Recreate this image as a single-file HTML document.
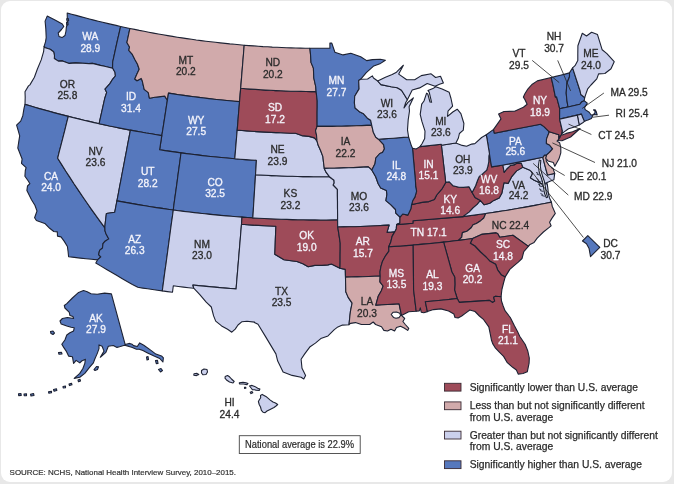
<!DOCTYPE html>
<html><head><meta charset="utf-8"><style>
html,body{margin:0;padding:0;background:#e8e8e8;}
#c{position:relative;width:674px;height:484px;background:#e8e8e8;overflow:hidden;}
#w{position:absolute;left:1px;top:1px;width:671px;height:481px;background:#fff;border-radius:9px;}
svg{position:absolute;left:0;top:0;will-change:transform;}
text{font-family:"Liberation Sans",Arial,sans-serif;}
</style></head><body><div id="c"><div id="w"></div>
<svg width="674" height="484" viewBox="0 0 674 484">
<g stroke="#1d2233" stroke-width="1.1" stroke-linejoin="round">
<path fill="#5678bd" d="M47.2,16.1 55.0,20.0 62.3,24.0 63.8,26.5 61.5,29.5 58.2,33.0 59.0,36.5 62.0,37.6 65.0,35.5 66.0,31.0 66.3,27.5 67.5,23.5 67.3,18.0 67.2,13.0 71.6,14.2 76.1,15.4 80.5,16.6 84.9,17.8 89.4,19.0 93.8,20.1 98.2,21.2 102.7,22.3 107.2,23.4 111.6,24.4 116.1,25.4 120.6,26.5 119.3,32.4 117.9,38.3 116.6,44.2 115.3,50.1 114.0,56.1 112.7,62.0 112.6,68.1 108.5,67.2 104.5,66.3 100.4,65.4 96.4,64.4 92.4,63.4 89.0,63.6 82.8,63.3 75.6,62.9 69.2,63.4 62.5,60.9 58.3,61.1 54.3,58.5 54.5,55.7 53.6,51.7 50.1,49.2 45.3,47.8 44.1,46.4 45.5,41.9 46.2,37.7 45.8,28.7 45.1,21.1 47.2,16.1Z"/>
<path fill="#cbd0ec" d="M44.1,46.4 45.3,47.8 50.1,49.2 53.6,51.7 54.5,55.7 54.3,58.5 58.3,61.1 62.5,60.9 69.2,63.4 75.6,62.9 82.8,63.3 89.0,63.6 92.4,63.4 96.4,64.4 100.4,65.4 104.5,66.3 108.5,67.2 112.6,68.1 115.0,72.3 115.4,76.0 112.3,79.7 109.9,83.6 105.0,89.1 106.7,92.4 104.7,98.5 103.3,104.8 101.9,111.1 100.5,117.4 99.1,123.7 94.2,122.6 89.2,121.4 84.2,120.3 79.2,119.1 74.3,117.9 69.3,116.6 64.4,115.4 59.4,114.1 54.5,112.8 49.6,111.4 44.6,110.1 39.7,108.7 34.8,107.3 29.9,105.8 25.0,104.4 25.2,96.9 25.0,91.8 28.5,85.9 29.9,84.9 34.4,77.2 37.3,69.2 41.2,59.9 43.6,51.7 44.1,46.4Z"/>
<path fill="#5678bd" d="M25.0,104.4 29.8,105.8 34.6,107.2 39.4,108.6 44.2,109.9 49.0,111.3 53.8,112.6 58.6,113.9 63.5,115.1 68.3,116.4 66.5,123.3 64.8,130.3 63.0,137.3 61.2,144.3 59.4,151.2 57.7,158.2 61.7,164.6 65.7,171.0 69.9,177.4 74.0,183.8 78.3,190.1 82.6,196.5 86.9,202.8 91.3,209.1 95.8,215.4 100.3,221.7 104.9,227.9 105.0,230.9 106.1,234.0 108.8,238.9 105.1,241.2 103.0,243.7 102.5,248.0 99.6,250.4 98.6,254.6 100.8,256.9 97.5,259.9 91.7,259.3 86.0,258.7 80.2,258.1 74.4,257.4 68.6,256.7 68.1,251.8 67.4,246.5 64.3,241.4 61.0,236.9 57.5,236.1 57.3,231.9 53.8,231.5 49.7,228.3 44.8,223.4 36.4,220.5 34.6,217.8 37.0,211.0 34.9,205.2 31.5,199.8 26.9,190.4 27.5,186.0 29.9,183.7 28.3,181.0 24.9,176.3 25.3,170.5 26.1,167.7 21.5,163.4 22.1,159.0 17.8,148.0 19.0,140.1 19.7,135.8 18.3,130.9 16.6,125.1 20.7,121.1 22.8,115.7 24.1,107.8 25.0,104.4Z"/>
<path fill="#cbd0ec" d="M68.3,116.4 73.4,117.7 78.6,118.9 83.7,120.2 88.9,121.4 94.1,122.6 99.2,123.7 104.4,124.9 109.6,126.0 114.8,127.0 120.0,128.1 125.2,129.1 130.4,130.1 129.1,136.9 127.8,143.8 126.5,150.6 125.2,157.5 123.9,164.3 122.6,171.2 121.3,178.0 120.0,184.9 118.7,191.8 117.4,198.6 116.1,205.5 114.7,212.3 106.4,213.5 105.5,220.7 104.9,226.4 104.9,227.9 100.3,221.7 95.8,215.4 91.3,209.1 86.9,202.8 82.6,196.5 78.3,190.1 74.0,183.8 69.9,177.4 65.7,171.0 61.7,164.6 57.7,158.2 59.4,151.2 61.2,144.3 63.0,137.3 64.8,130.3 66.5,123.3 68.3,116.4Z"/>
<path fill="#5678bd" d="M120.6,26.5 125.2,27.5 129.9,28.5 128.9,33.1 127.9,37.8 126.9,42.5 129.5,47.1 128.8,50.4 132.1,54.1 135.0,59.7 137.4,64.0 139.2,69.2 136.7,74.5 134.8,79.0 137.0,80.8 141.2,78.4 142.2,80.7 144.2,89.4 148.3,92.6 149.4,98.2 154.8,97.3 164.7,96.1 167.4,100.2 166.3,107.2 165.2,114.3 164.1,121.4 163.0,128.5 161.8,135.6 156.6,134.7 151.3,133.8 146.1,133.0 140.9,132.0 135.6,131.1 130.4,130.1 125.2,129.1 120.0,128.1 114.7,127.0 109.5,126.0 104.3,124.8 99.1,123.7 100.5,117.4 101.9,111.1 103.3,104.8 104.7,98.5 106.7,92.4 105.0,89.1 109.9,83.6 112.3,79.7 115.4,76.0 115.0,72.3 112.6,68.1 112.7,62.0 114.0,56.1 115.3,50.1 116.6,44.2 117.9,38.3 119.3,32.4 120.6,26.5Z"/>
<path fill="#d1aaab" d="M129.9,28.5 134.6,29.4 139.3,30.4 144.1,31.3 148.8,32.2 153.5,33.1 158.3,34.0 163.0,34.8 167.8,35.6 172.5,36.4 177.3,37.2 182.0,37.9 186.8,38.6 191.6,39.3 196.3,40.0 201.1,40.6 205.9,41.2 210.7,41.8 215.5,42.3 220.3,42.9 225.1,43.4 229.8,43.9 234.6,44.3 239.4,44.8 244.2,45.2 243.7,52.2 243.1,59.2 242.5,66.3 241.9,73.3 241.3,80.4 240.7,87.4 240.1,94.5 239.6,101.6 234.5,101.2 229.4,100.7 224.3,100.2 219.2,99.7 214.1,99.2 209.0,98.6 203.9,98.0 198.9,97.4 193.8,96.8 188.7,96.1 183.7,95.4 178.6,94.7 173.5,93.9 168.5,93.1 167.4,100.2 164.7,96.1 154.8,97.3 149.4,98.2 148.3,92.6 144.2,89.4 142.2,80.7 141.2,78.4 137.0,80.8 134.8,79.0 136.7,74.5 139.2,69.2 137.4,64.0 135.0,59.7 132.1,54.1 128.8,50.4 129.5,47.1 126.9,42.5 127.9,37.8 128.9,33.1 129.9,28.5Z"/>
<path fill="#5678bd" d="M168.5,93.1 173.5,93.9 178.6,94.7 183.7,95.4 188.7,96.1 193.8,96.8 198.9,97.4 203.9,98.0 209.0,98.6 214.1,99.2 219.2,99.7 224.3,100.2 229.4,100.7 234.5,101.2 239.6,101.6 239.0,108.7 238.4,115.9 237.8,123.0 237.2,130.1 236.6,137.3 236.0,144.4 235.4,151.6 234.8,158.8 229.4,158.3 224.0,157.8 218.6,157.3 213.3,156.7 207.9,156.2 202.5,155.6 197.1,154.9 191.8,154.3 186.4,153.6 181.0,152.9 175.7,152.1 170.3,151.4 165.0,150.6 159.6,149.8 160.7,142.6 161.8,135.6 163.0,128.5 164.1,121.4 165.2,114.3 166.3,107.2 167.4,100.2 168.5,93.1Z"/>
<path fill="#5678bd" d="M130.4,130.1 135.6,131.1 140.9,132.0 146.1,133.0 151.3,133.8 156.6,134.7 161.8,135.6 160.7,142.6 159.6,149.8 165.0,150.6 170.3,151.4 175.7,152.1 181.0,152.9 180.1,160.0 179.1,167.1 178.1,174.3 177.2,181.4 176.2,188.6 175.2,195.7 174.2,202.8 173.3,210.0 167.6,209.2 162.0,208.4 156.3,207.6 150.7,206.7 145.0,205.8 139.4,204.9 133.8,203.9 128.1,202.9 122.5,201.9 116.9,200.9 118.3,193.8 119.6,186.7 121.0,179.6 122.3,172.5 123.7,165.4 125.0,158.4 126.4,151.3 127.7,144.2 129.1,137.2 130.4,130.1Z"/>
<path fill="#5678bd" d="M181.0,152.9 186.4,153.6 191.8,154.3 197.1,154.9 202.5,155.6 207.9,156.2 213.3,156.7 218.6,157.3 224.0,157.8 229.4,158.3 234.8,158.8 240.2,159.2 245.6,159.6 251.0,160.0 256.4,160.3 256.0,167.5 255.5,174.7 255.1,181.9 254.6,189.1 254.2,196.3 253.7,203.5 253.3,210.7 252.8,217.9 247.1,217.5 241.4,217.1 235.7,216.7 230.0,216.2 224.4,215.7 218.7,215.2 213.0,214.6 207.3,214.1 201.6,213.5 195.9,212.8 190.3,212.2 184.6,211.5 178.9,210.7 173.3,210.0 174.2,202.8 175.2,195.7 176.2,188.6 177.2,181.4 178.1,174.3 179.1,167.1 180.1,160.0 181.0,152.9Z"/>
<path fill="#5678bd" d="M116.9,200.9 122.5,201.9 128.1,202.9 133.8,203.9 139.4,204.9 145.0,205.8 150.7,206.7 156.3,207.6 162.0,208.4 167.6,209.2 173.3,210.0 172.4,216.7 171.4,223.5 170.5,230.3 169.6,237.0 168.7,243.7 167.8,250.5 166.9,257.2 166.0,264.0 165.0,270.7 164.1,277.4 163.2,284.2 162.3,290.9 157.4,290.2 152.5,289.5 147.6,288.8 142.7,288.1 137.8,287.3 132.4,284.4 127.1,281.4 121.9,278.4 116.6,275.3 111.4,272.3 106.2,269.2 101.0,266.1 95.8,263.0 97.5,259.9 100.8,256.9 98.6,254.6 99.6,250.4 102.5,248.0 103.0,243.7 105.1,241.2 108.8,238.9 106.1,234.0 105.0,230.9 104.9,227.9 104.9,226.4 105.5,220.7 106.4,213.5 114.7,212.3 115.8,206.6 116.9,200.9Z"/>
<path fill="#cbd0ec" d="M173.3,210.0 178.5,210.7 183.8,211.4 189.1,212.0 194.4,212.6 199.7,213.2 204.9,213.8 210.2,214.4 215.5,214.9 220.8,215.4 226.1,215.9 231.4,216.3 236.7,216.7 242.0,217.1 241.5,224.3 240.9,231.5 240.3,238.7 239.7,245.9 239.1,253.1 238.5,260.2 237.9,267.4 237.3,274.6 236.7,281.7 236.1,288.9 230.7,288.5 225.3,288.1 219.9,287.6 214.5,287.1 209.1,286.6 203.7,286.1 198.3,285.6 192.9,285.0 193.7,288.2 188.6,287.7 183.5,287.1 178.4,286.5 173.3,285.8 172.5,292.2 167.4,291.6 162.3,290.9 163.2,284.2 164.1,277.4 165.0,270.7 166.0,264.0 166.9,257.2 167.8,250.5 168.7,243.7 169.6,237.0 170.5,230.3 171.4,223.5 172.4,216.7 173.3,210.0Z"/>
<path fill="#cbd0ec" d="M241.5,224.3 247.2,224.7 253.0,225.1 258.7,225.4 264.4,225.7 270.2,226.0 275.9,226.3 275.6,233.2 275.3,240.2 275.1,247.2 274.8,254.2 279.4,257.0 284.0,259.7 291.1,260.7 297.0,261.5 302.9,263.8 308.2,266.7 314.8,265.4 321.9,265.4 327.9,264.9 331.4,264.0 340.0,268.2 345.3,269.4 345.4,275.0 345.6,280.6 345.7,286.2 345.8,291.7 348.2,297.4 352.1,303.1 350.4,311.7 349.9,316.0 349.0,324.7 342.4,325.1 337.9,326.9 334.3,329.6 328.0,335.9 320.8,338.6 315.4,343.1 310.1,346.7 304.7,353.9 301.1,359.3 302.0,368.3 305.6,375.4 303.8,379.0 301.1,377.2 292.1,375.4 283.1,371.9 277.7,361.1 275.9,353.9 265.1,335.9 258.0,324.3 254.4,322.5 254.5,322.1 247.0,321.3 242.0,321.7 238.0,325.0 235.2,329.1 231.8,332.2 227.6,329.3 221.6,325.9 215.7,321.1 213.6,315.9 211.3,307.0 206.2,302.2 199.6,294.3 193.7,288.2 192.9,285.0 198.3,285.6 203.7,286.1 209.1,286.6 214.5,287.1 219.9,287.6 225.3,288.1 230.7,288.5 236.1,288.9 236.7,281.7 237.3,274.6 237.9,267.4 238.5,260.2 239.1,253.1 239.7,245.9 240.3,238.7 240.9,231.5 241.5,224.3Z"/>
<path fill="#9e4b59" d="M242.0,217.1 247.6,217.5 253.2,217.9 258.9,218.2 264.5,218.5 270.1,218.8 275.7,219.0 281.3,219.3 287.0,219.4 292.6,219.6 298.2,219.7 303.9,219.8 309.5,219.9 315.1,219.9 320.7,220.0 326.4,220.0 332.0,219.9 337.6,219.8 337.7,227.0 338.6,232.4 339.4,237.7 340.2,243.0 340.2,249.3 340.1,255.6 340.1,261.9 340.0,268.2 331.4,264.0 327.9,264.9 321.9,265.4 314.8,265.4 308.2,266.7 302.9,263.8 297.0,261.5 291.1,260.7 284.0,259.7 279.4,257.0 274.8,254.2 275.1,247.2 275.3,240.2 275.6,233.2 275.9,226.3 270.2,226.0 264.4,225.7 258.7,225.4 253.0,225.1 247.2,224.7 241.5,224.3 242.0,217.1Z"/>
<path fill="#cbd0ec" d="M255.5,174.7 260.8,175.0 266.1,175.3 271.3,175.6 276.6,175.8 281.9,176.0 287.2,176.2 292.4,176.3 297.7,176.5 303.0,176.6 308.3,176.6 313.6,176.7 318.8,176.7 324.1,176.7 329.4,176.7 331.7,178.5 334.0,180.2 334.2,183.1 333.2,185.0 337.4,189.3 337.4,195.4 337.5,201.5 337.5,207.6 337.6,213.7 337.6,219.8 332.0,219.9 326.3,220.0 320.7,220.0 315.0,219.9 309.4,219.9 303.7,219.8 298.0,219.7 292.4,219.6 286.7,219.4 281.1,219.2 275.4,219.0 269.8,218.8 264.1,218.5 258.5,218.2 252.8,217.9 253.3,210.7 253.7,203.5 254.2,196.3 254.6,189.1 255.1,181.9 255.5,174.7Z"/>
<path fill="#cbd0ec" d="M237.2,130.1 242.0,130.5 246.9,130.9 251.7,131.2 256.6,131.6 261.5,131.9 266.3,132.1 271.2,132.4 276.0,132.6 280.9,132.8 285.8,133.0 290.6,133.2 295.5,133.3 301.8,135.6 309.1,136.4 314.4,137.9 317.0,140.9 318.1,145.1 320.7,150.8 322.9,156.6 323.5,162.3 324.3,168.4 326.2,172.4 329.4,176.7 324.1,176.7 318.8,176.7 313.6,176.7 308.3,176.6 303.0,176.6 297.7,176.5 292.4,176.3 287.2,176.2 281.9,176.0 276.6,175.8 271.3,175.6 266.1,175.3 260.8,175.0 255.5,174.7 256.0,167.5 256.4,160.3 251.0,160.0 245.6,159.6 240.2,159.2 234.8,158.8 235.4,151.6 236.0,144.4 236.6,137.3 237.2,130.1Z"/>
<path fill="#9e4b59" d="M240.7,88.3 245.7,88.7 250.7,89.1 255.7,89.4 260.8,89.8 265.8,90.1 270.8,90.3 275.8,90.6 280.9,90.8 285.9,91.0 290.9,91.2 296.0,91.3 301.0,91.4 306.0,91.5 311.1,91.6 316.1,91.6 316.7,96.2 317.2,100.7 317.2,107.1 317.1,113.6 317.1,120.0 317.1,126.4 315.5,130.7 316.5,135.0 317.0,140.9 314.4,137.9 309.1,136.4 301.8,135.6 295.5,133.3 290.6,133.2 285.8,133.0 280.9,132.8 276.0,132.6 271.2,132.4 266.3,132.1 261.5,131.9 256.6,131.6 251.7,131.2 246.9,130.9 242.0,130.5 237.2,130.1 237.8,123.1 238.3,116.2 238.9,109.2 239.5,102.2 240.1,95.2 240.7,88.3Z"/>
<path fill="#d1aaab" d="M244.2,45.2 248.9,45.6 253.6,45.9 258.3,46.2 263.0,46.6 267.7,46.8 272.3,47.1 277.0,47.3 281.7,47.5 286.4,47.7 291.1,47.9 295.8,48.0 300.5,48.1 305.2,48.2 309.9,48.3 310.6,55.3 311.0,62.4 313.4,68.1 313.8,78.0 315.7,86.5 316.1,91.6 311.1,91.6 306.0,91.5 301.0,91.4 296.0,91.3 290.9,91.2 285.9,91.0 280.9,90.8 275.8,90.6 270.8,90.3 265.8,90.1 260.8,89.8 255.7,89.4 250.7,89.1 245.7,88.7 240.7,88.3 241.2,82.1 241.7,75.9 242.2,69.8 242.7,63.6 243.2,57.4 243.7,51.3 244.2,45.2Z"/>
<path fill="#5678bd" d="M309.9,48.3 329.9,48.3 329.9,43.0 331.8,43.1 334.9,52.2 343.1,54.9 350.8,53.2 360.7,56.7 366.7,60.6 372.5,59.6 380.3,59.2 385.4,60.2 380.6,63.4 373.8,65.9 366.3,72.7 360.6,79.3 358.7,80.5 359.1,88.9 354.7,96.3 354.4,103.0 355.1,108.0 359.9,112.1 363.1,113.4 367.4,118.2 370.6,120.2 371.7,125.2 366.8,125.4 361.8,125.6 356.8,125.8 351.9,126.0 346.9,126.1 341.9,126.2 337.0,126.3 332.0,126.4 327.0,126.4 322.1,126.4 317.1,126.4 317.1,120.0 317.1,113.6 317.2,107.1 317.2,100.7 316.7,96.2 316.1,91.6 315.7,86.5 313.8,78.0 313.4,68.1 311.0,62.4 310.6,55.3 309.9,48.3Z"/>
<path fill="#d1aaab" d="M317.1,126.4 322.1,126.4 327.0,126.4 332.0,126.4 337.0,126.3 341.9,126.2 346.9,126.1 351.9,126.0 356.8,125.8 361.8,125.6 366.8,125.4 371.7,125.2 373.3,132.2 375.7,137.1 378.5,139.2 383.6,144.6 384.4,148.9 382.5,152.6 379.8,153.5 375.8,158.0 375.0,163.8 372.0,169.7 371.8,170.0 368.3,166.9 363.4,167.1 358.5,167.4 353.6,167.6 348.8,167.8 343.9,167.9 339.0,168.1 334.1,168.2 329.2,168.3 324.3,168.4 323.5,162.3 322.9,156.6 320.7,150.8 318.1,145.1 317.0,140.9 316.5,135.0 315.5,130.7 317.1,126.4Z"/>
<path fill="#cbd0ec" d="M324.3,168.4 329.2,168.3 334.1,168.2 339.0,168.1 343.9,167.9 348.8,167.8 353.6,167.6 358.5,167.4 363.4,167.1 368.3,166.9 371.8,170.0 375.7,176.7 378.2,183.8 380.7,188.0 386.4,190.6 386.9,194.4 385.9,200.7 390.7,204.7 395.5,209.5 395.8,213.1 400.0,217.1 399.9,222.9 396.6,224.6 396.3,228.9 394.7,231.9 390.9,232.2 387.0,232.4 389.1,225.1 383.4,225.4 377.7,225.7 372.0,226.0 366.3,226.2 360.6,226.5 354.9,226.7 349.2,226.8 343.5,226.9 337.7,227.0 337.6,219.8 337.6,213.7 337.5,207.6 337.5,201.5 337.4,195.4 337.4,189.3 333.2,185.0 334.2,183.1 334.0,180.2 331.7,178.5 329.4,176.7 326.2,172.4 324.3,168.4Z"/>
<path fill="#9e4b59" d="M337.7,227.0 343.5,226.9 349.2,226.8 354.9,226.7 360.6,226.5 366.3,226.2 372.0,226.0 377.7,225.7 383.4,225.4 389.1,225.1 387.0,232.4 390.9,232.2 394.7,231.9 392.1,236.4 390.7,242.3 388.7,246.8 388.9,251.1 385.7,255.6 382.4,261.6 380.9,266.7 380.0,271.8 380.2,276.1 374.4,276.3 368.6,276.5 362.8,276.7 357.1,276.9 351.3,277.0 345.5,277.1 345.4,273.2 345.3,269.4 340.0,268.2 340.1,261.9 340.1,255.6 340.2,249.3 340.2,243.0 339.4,237.7 338.6,232.4 337.7,227.0Z"/>
<path fill="#d1aaab" d="M345.5,277.1 351.3,277.0 357.1,276.9 362.8,276.7 368.6,276.5 374.4,276.3 380.2,276.1 379.9,281.9 383.1,286.0 381.5,290.4 378.2,296.3 375.8,305.1 381.6,304.8 387.5,304.5 393.3,304.1 399.1,303.8 401.5,315.4 404.7,318.5 402.9,321.5 405.3,324.5 408.8,328.3 407.7,330.4 404.1,328.0 400.5,326.2 396.5,327.5 394.6,331.0 391.0,329.2 387.5,331.0 383.9,330.4 381.5,326.8 375.6,324.5 373.2,322.0 369.7,324.5 361.4,324.5 355.4,322.6 350.5,323.4 349.0,324.7 349.9,316.0 350.4,311.7 352.1,303.1 348.2,297.4 345.8,291.7 345.7,286.8 345.6,281.9 345.5,277.1Z"/>
<path fill="#9e4b59" d="M388.7,246.8 393.6,246.5 398.5,246.1 403.4,245.8 408.3,245.4 413.2,245.0 413.6,289.8 416.2,311.3 408.7,311.7 401.5,315.4 399.1,303.8 393.3,304.1 387.5,304.5 381.6,304.8 375.8,305.1 378.2,296.3 381.5,290.4 383.1,286.0 379.9,281.9 380.2,276.1 380.0,271.8 380.9,266.7 382.4,261.6 385.7,255.6 388.9,251.1 388.7,246.8Z"/>
<path fill="#9e4b59" d="M485.7,213.5 462.9,216.6 413.0,220.7 412.9,223.3 396.6,224.6 396.3,228.9 394.7,231.9 392.1,236.4 390.7,242.3 388.7,246.8 394.5,246.4 400.3,246.0 406.2,245.6 412.0,245.1 417.8,244.6 423.6,244.1 429.4,243.6 435.2,243.0 441.1,242.4 446.9,241.7 452.7,241.1 458.5,240.4 461.8,237.1 462.4,232.6 466.9,231.2 471.2,227.8 473.1,224.7 476.4,223.5 480.7,220.7 483.8,218.0 485.7,213.5Z"/>
<path fill="#9e4b59" d="M462.9,216.6 413.0,220.7 412.9,223.3 396.6,224.6 399.9,222.9 400.0,217.1 402.7,214.0 407.9,215.1 410.8,209.0 411.6,204.6 416.6,203.5 423.3,202.1 428.9,201.6 434.4,199.6 436.7,195.0 442.2,188.6 445.7,182.4 449.3,181.9 453.1,185.8 458.9,187.3 463.4,187.4 469.0,186.7 472.1,192.5 475.0,197.4 480.4,200.5 477.2,204.4 473.1,207.9 469.1,212.1 462.9,216.6Z"/>
<path fill="#cbd0ec" d="M462.9,216.6 468.6,215.8 474.3,215.1 480.0,214.3 485.7,213.5 491.2,212.7 496.7,211.9 502.2,211.0 507.7,210.2 513.2,209.3 518.7,208.3 524.1,207.4 529.6,206.4 535.1,205.4 540.5,204.3 546.0,203.2 551.4,202.1 549.5,198.0 548.3,193.0 547.8,188.0 547.2,183.6 543.2,184.0 540.1,183.1 533.8,180.0 530.4,177.8 532.5,173.7 531.5,171.7 529.4,169.9 525.8,168.4 522.9,167.2 522.2,167.6 516.6,170.9 511.5,176.9 508.1,183.4 504.0,182.7 501.8,193.3 499.2,198.1 493.8,200.4 489.7,203.3 484.2,204.8 480.4,200.5 477.2,204.4 473.1,207.9 469.1,212.1 462.9,216.6Z"/>
<path fill="#9e4b59" d="M480.4,200.5 484.2,204.8 489.7,203.3 493.8,200.4 499.2,198.1 501.8,193.3 504.0,182.7 508.1,183.4 511.5,176.9 516.6,170.9 522.2,167.6 522.9,167.2 521.4,163.4 516.9,163.1 514.9,164.6 510.6,165.4 506.7,169.0 504.2,172.4 503.5,168.7 502.9,165.0 499.1,165.7 495.4,166.3 491.6,166.9 490.5,160.4 489.5,153.8 488.9,156.0 488.8,161.8 487.8,166.4 486.7,170.2 482.8,173.7 479.3,176.4 477.6,180.3 475.6,185.7 472.1,192.5 475.0,197.4 480.4,200.5Z"/>
<path fill="#cbd0ec" d="M502.9,165.0 507.9,164.1 512.9,163.2 517.9,162.3 522.9,161.3 527.8,160.3 532.8,159.3 537.8,158.3 542.8,157.3 544.3,163.2 545.9,169.1 547.5,175.0 551.1,174.2 554.7,173.4 553.9,179.8 550.6,181.1 547.2,182.4 543.2,184.0 540.1,183.1 533.8,180.0 530.4,177.8 532.5,173.7 531.5,171.7 529.4,169.9 525.8,168.4 522.9,167.2 521.4,163.4 516.9,163.1 514.9,164.6 510.6,165.4 506.7,169.0 504.2,172.4 503.5,168.7 502.9,165.0Z"/>
<path fill="#d1aaab" d="M542.8,157.3 544.5,155.1 546.7,154.9 546.1,157.6 546.3,161.2 548.9,165.1 553.1,168.6 554.7,173.4 551.1,174.2 547.5,175.0 545.9,169.1 544.3,163.2 542.8,157.3Z"/>
<path fill="#5678bd" d="M491.6,166.9 496.7,166.1 501.9,165.2 507.0,164.3 512.1,163.4 517.2,162.4 522.4,161.4 527.5,160.4 532.6,159.4 537.7,158.3 542.8,157.3 544.5,155.1 546.7,154.9 549.5,152.4 552.6,148.8 549.5,145.0 546.4,143.5 546.5,139.1 549.3,131.8 543.7,126.4 540.5,124.2 494.3,133.2 493.6,129.4 486.3,134.8 487.4,141.2 488.4,147.7 489.5,154.1 490.5,160.5 491.6,166.9Z"/>
<path fill="#d1aaab" d="M549.3,131.8 546.5,139.1 546.4,143.5 549.5,145.0 552.6,148.8 549.5,152.4 546.7,154.9 545.7,158.4 548.0,160.9 553.4,162.6 554.8,166.3 558.9,159.1 560.8,152.8 560.8,147.6 559.6,142.7 557.0,141.1 558.8,139.2 558.8,137.0 558.9,134.8 549.3,131.8Z"/>
<path fill="#9e4b59" d="M493.6,129.4 501.0,118.9 498.6,114.0 504.0,111.5 514.6,111.3 523.4,107.3 527.1,104.3 525.0,99.7 523.4,97.1 524.9,93.8 528.0,88.8 532.3,84.2 537.3,80.9 551.2,77.5 552.9,84.6 555.4,97.2 556.6,96.9 559.7,108.7 559.6,119.1 562.4,131.0 561.5,134.1 560.4,136.6 558.8,139.2 558.8,137.0 558.9,134.8 549.3,131.8 543.7,126.4 540.5,124.2 494.3,133.2 493.6,129.4ZM558.5,140.5 562.0,140.8 570.6,137.0 580.1,128.5 575.6,130.4 572.6,131.7 566.3,133.4 560.7,135.5 558.9,137.4Z"/>
<path fill="#5678bd" d="M551.2,77.5 555.8,76.4 560.4,75.3 565.0,74.1 569.5,72.9 569.5,76.8 566.9,83.3 566.2,93.1 566.9,100.3 568.0,107.0 563.8,107.9 559.7,108.7 556.6,96.9 555.4,97.2 552.9,84.6 551.2,77.5Z"/>
<path fill="#5678bd" d="M572.6,67.8 580.1,91.0 580.8,94.5 584.7,97.6 584.2,100.7 581.5,102.1 579.9,104.3 568.0,107.0 559.7,108.7 568.0,107.0 566.9,100.3 566.2,93.1 566.9,83.3 569.5,76.8 569.5,72.9 572.6,67.8Z"/>
<path fill="#cbd0ec" d="M572.6,67.8 575.0,65.7 577.8,60.5 577.8,54.6 577.9,45.8 582.3,33.3 586.5,36.0 591.6,32.3 597.5,34.6 602.2,49.8 606.9,53.6 614.2,61.7 611.0,68.7 604.9,73.5 598.6,73.9 596.8,78.9 591.0,85.0 587.7,88.9 586.5,92.2 584.7,97.6 580.8,94.5 580.1,91.0 572.6,67.8Z"/>
<path fill="#5678bd" d="M559.7,108.7 568.0,107.0 579.9,104.3 581.5,102.1 584.2,100.7 587.3,103.1 584.6,107.6 585.2,109.6 589.2,112.3 591.1,115.0 594.8,114.5 597.2,115.0 596.3,111.8 595.2,109.9 593.5,109.9 595.1,111.4 594.9,112.9 592.8,115.4 591.4,118.4 588.0,120.0 586.2,120.5 584.4,121.4 582.8,117.7 581.4,114.1 577.3,115.1 559.6,119.1 559.7,108.7Z"/>
<path fill="#cbd0ec" d="M577.3,115.1 581.4,114.1 582.8,117.7 584.4,121.4 583.1,122.5 579.2,125.0 577.3,115.1Z"/>
<path fill="#cbd0ec" d="M559.6,119.1 577.3,115.1 579.2,125.0 573.7,127.2 568.5,128.7 563.8,132.1 561.5,134.1 562.4,131.0 559.6,119.1Z"/>
<path fill="#cbd0ec" d="M486.3,134.8 487.4,141.2 488.4,147.5 489.5,153.8 488.9,156.0 488.8,161.8 487.8,166.4 486.7,170.2 482.8,173.7 479.3,176.4 477.6,180.3 475.6,185.7 472.1,192.5 469.0,186.7 463.4,187.4 458.9,187.3 453.1,185.8 449.3,181.9 445.7,182.4 445.0,176.2 444.3,170.0 443.5,163.8 442.8,157.6 442.1,151.4 441.4,145.2 446.2,144.5 451.0,143.7 455.9,143.0 462.2,145.4 466.6,146.3 471.7,144.1 474.9,143.6 481.6,137.5 486.3,134.8Z"/>
<path fill="#9e4b59" d="M441.3,144.3 442.0,150.7 442.8,157.0 443.5,163.3 444.2,169.7 445.0,176.0 445.7,182.4 442.2,188.6 436.7,195.0 434.4,199.6 428.9,201.6 423.3,202.1 416.6,203.5 411.6,204.6 412.9,200.2 414.9,197.1 416.6,191.2 415.7,186.9 415.5,181.9 414.9,175.1 414.3,168.4 413.7,161.7 413.1,154.9 412.5,148.2 416.1,149.0 420.0,146.6 425.3,146.1 430.6,145.5 435.9,145.0 441.3,144.3Z"/>
<path fill="#5678bd" d="M378.5,139.2 383.5,138.9 388.5,138.5 393.5,138.2 398.6,137.8 403.6,137.4 408.6,137.0 411.5,146.1 412.5,148.2 413.1,154.9 413.7,161.7 414.3,168.4 414.9,175.1 415.5,181.9 415.7,186.9 416.6,191.2 414.9,197.1 412.9,200.2 411.6,204.6 410.8,209.0 407.9,215.1 402.7,214.0 400.0,217.1 395.8,213.1 395.5,209.5 390.7,204.7 385.9,200.7 386.9,194.4 386.4,190.6 380.7,188.0 378.2,183.8 375.7,176.7 371.8,170.0 372.0,169.7 375.0,163.8 375.8,158.0 379.8,153.5 382.5,152.6 384.4,148.9 383.6,144.6 378.5,139.2Z"/>
<path fill="#cbd0ec" d="M378.5,139.2 375.7,137.1 373.3,132.2 371.7,125.2 370.6,120.2 367.4,118.2 363.1,113.4 359.9,112.1 355.1,108.0 354.4,103.0 354.7,96.3 359.1,88.9 358.7,80.5 360.6,79.3 367.6,79.0 372.4,75.9 373.5,78.0 377.7,81.0 380.9,84.6 391.1,86.8 397.3,87.8 401.5,90.3 404.5,95.0 407.4,99.8 405.6,102.8 404.0,107.9 407.7,102.6 409.6,101.0 413.4,97.8 409.1,106.8 409.5,111.0 408.2,119.8 407.5,129.9 408.6,137.0 403.6,137.4 398.6,137.8 393.5,138.2 388.5,138.5 383.5,138.9 378.5,139.2Z"/>
<path fill="#cbd0ec" d="M420.0,146.6 441.3,144.3 441.4,145.2 455.9,143.0 458.4,138.0 459.4,133.5 463.3,130.1 463.9,123.5 460.9,113.7 457.2,109.2 452.8,112.0 447.6,116.3 448.0,111.2 452.6,106.2 451.0,98.5 449.2,92.3 442.1,88.9 435.7,86.8 432.9,88.6 428.0,90.6 429.2,92.2 431.6,102.3 430.0,102.0 427.8,94.0 426.6,93.2 424.0,101.0 421.7,104.1 420.2,114.3 421.9,121.4 425.0,131.1 424.7,138.4 422.0,143.7 420.0,146.6ZM377.7,81.0 380.9,84.6 391.1,86.8 397.3,87.8 401.5,90.3 404.5,95.0 407.4,99.8 412.2,90.0 419.6,87.9 427.2,83.5 435.1,86.2 439.5,84.2 443.4,83.0 440.5,76.2 435.6,77.5 431.1,73.8 421.3,75.6 414.7,79.8 406.7,79.8 398.7,74.1 403.4,65.2 396.5,72.2 392.2,74.6 385.4,77.2 377.7,81.0Z"/>
<path fill="#d1aaab" d="M458.5,240.4 463.2,239.8 467.9,239.2 472.6,238.5 481.5,234.4 496.1,232.9 497.6,233.4 499.7,237.2 512.9,235.3 528.4,246.4 530.0,244.4 534.1,242.4 537.2,238.2 543.4,232.0 548.6,227.9 551.1,225.8 549.6,222.2 551.7,218.6 555.3,213.4 552.2,206.2 551.4,202.1 546.0,203.2 540.5,204.3 535.1,205.4 529.6,206.4 524.1,207.4 518.7,208.3 513.2,209.3 507.7,210.2 502.2,211.0 496.7,211.9 491.2,212.7 485.7,213.5 483.8,218.0 480.7,220.7 476.4,223.5 473.1,224.7 471.2,227.8 466.9,231.2 462.4,232.6 461.8,237.1 458.5,240.4Z"/>
<path fill="#9e4b59" d="M472.6,238.5 481.5,234.4 496.1,232.9 497.6,233.4 499.7,237.2 512.9,235.3 528.4,246.4 523.8,251.6 522.0,258.5 518.3,262.1 514.1,265.7 509.8,269.4 505.2,276.9 501.5,275.1 497.6,269.8 495.6,264.3 489.6,260.9 486.0,257.0 480.5,252.0 474.8,246.0 470.3,243.2 472.6,238.5Z"/>
<path fill="#9e4b59" d="M443.6,242.1 449.4,241.5 455.2,240.8 461.0,240.1 466.8,239.3 472.6,238.5 470.3,243.2 474.8,246.0 480.5,252.0 486.0,257.0 489.6,260.9 495.6,264.3 497.6,269.8 501.5,275.1 505.2,276.9 503.4,283.5 501.9,289.5 501.1,296.8 495.4,296.3 493.7,297.3 494.7,301.1 492.6,302.5 489.5,300.4 459.4,302.4 457.2,298.5 454.6,290.1 454.9,284.3 454.7,277.1 451.9,272.0 443.6,242.1Z"/>
<path fill="#9e4b59" d="M413.2,245.0 418.3,244.6 423.3,244.1 428.4,243.7 433.5,243.2 438.5,242.7 443.6,242.1 451.9,272.0 454.7,277.1 454.9,284.3 454.6,290.1 457.2,298.5 451.9,299.1 446.6,299.7 441.2,300.2 435.9,300.8 430.6,301.3 425.3,301.7 427.4,311.6 423.8,312.7 421.2,312.2 420.3,307.9 419.3,310.9 416.2,311.3 413.6,289.8 413.2,245.0Z"/>
<path fill="#9e4b59" d="M425.3,301.7 430.6,301.3 435.9,300.8 441.2,300.2 446.6,299.7 451.9,299.1 457.2,298.5 459.4,302.4 489.5,300.4 492.6,302.5 494.7,301.1 493.7,297.3 495.4,296.3 501.1,296.8 501.5,301.0 503.0,305.5 505.0,310.7 510.3,317.5 514.3,325.5 517.5,331.5 519.7,336.3 525.1,344.3 527.8,351.0 529.3,358.0 529.1,363.1 527.3,371.8 523.0,373.5 518.2,374.1 516.4,370.0 512.7,367.3 507.3,362.7 503.6,356.4 499.1,351.8 495.5,348.2 492.7,343.6 491.5,340.3 490.2,333.6 488.8,326.9 483.7,319.7 479.4,316.0 475.0,311.5 469.8,310.0 466.3,312.6 461.7,316.0 458.1,317.9 455.0,317.5 453.9,314.0 448.6,311.0 440.9,308.9 433.5,309.6 427.4,311.6 425.3,301.7Z"/>
<path fill="#fff" d="M539.3,160.0 538.3,166.0 539.2,172.0 541.0,177.0 542.6,182.0 543.6,188.0 544.6,193.5 546.3,197.6 547.6,197.2 546.2,192.5 545.4,187.0 544.4,181.5 542.6,176.3 541.1,171.0 540.3,166.0 540.8,160.5Z"/>
<path fill="#fff" d="M391.2,314.5 393.0,312.3 396.5,312.0 399.8,313.2 400.6,315.5 399.0,317.6 396.0,318.2 393.5,317.4Z"/>
<path fill="#5678bd" d="M111.4,293.9 104.6,293.1 97.2,294.3 91.0,293.7 87.2,291.8 83.5,290.6 78.6,292.4 72.4,298.0 66.8,303.6 64.3,305.5 64.9,308.0 69.3,312.3 69.9,315.4 73.0,316.6 73.6,318.5 67.4,317.5 62.4,318.5 60.0,321.0 61.2,324.1 66.8,326.0 71.1,327.2 74.2,327.8 73.6,330.9 69.9,332.8 66.8,335.0 64.9,340.0 61.8,344.3 63.7,347.4 66.2,351.1 68.6,356.1 72.4,356.7 73.6,363.5 76.1,360.4 79.8,362.9 81.7,361.0 85.4,359.2 84.8,363.5 82.9,368.5 79.8,373.4 76.1,376.6 74.2,378.4 79.8,377.2 84.8,373.4 89.7,367.2 93.4,362.9 94.7,359.2 97.2,353.6 99.0,348.6 99.0,344.9 102.1,346.2 104.0,351.1 100.3,357.3 105.9,352.4 108.3,346.2 113.3,345.5 117.0,347.4 119.5,346.8 124.5,345.3 129.0,346.4 131.7,347.3 136.4,349.2 139.2,349.2 142.9,350.5 147.6,352.9 154.1,356.1 159.7,358.5 162.9,362.0 163.4,357.8 161.5,355.9 155.9,354.1 150.3,349.9 143.8,345.2 139.7,342.9 137.3,346.5 133.6,345.6 132.2,344.3 129.0,343.4 125.2,344.6Z"/>
<path fill="#5678bd" d="M50.5,331.5 53.0,331.0 54.5,333.0 53.0,334.5 51.0,333.5Z"/>
<path fill="#5678bd" d="M58.5,352.5 61.5,352.3 62.0,354.0 59.0,354.3Z"/>
<path fill="#5678bd" d="M94.0,369.5 96.5,366.5 98.5,366.8 97.5,369.5 95.0,370.5Z"/>
<path fill="#5678bd" d="M78.0,380.0 80.0,379.3 80.5,381.0 78.5,381.8Z"/>
<path fill="#5678bd" d="M69.0,384.0 71.5,383.2 72.0,384.8 69.5,385.6Z"/>
<path fill="#5678bd" d="M63.0,386.5 65.5,386.0 65.5,387.8 63.2,388.0Z"/>
<path fill="#5678bd" d="M53.5,389.5 56.5,388.8 56.8,390.5 54.0,391.2Z"/>
<path fill="#5678bd" d="M48.5,391.8 51.5,391.2 51.5,392.8 48.8,393.2Z"/>
<path fill="#5678bd" d="M30.5,394.2 33.5,393.5 34.0,395.5 31.0,396.0Z"/>
<path fill="#5678bd" d="M24.0,394.0 26.5,393.8 26.5,395.6 24.2,395.8Z"/>
<path fill="#5678bd" d="M18.5,393.8 21.0,393.5 21.2,395.5 18.7,395.6Z"/>
<path fill="#5678bd" d="M146.5,357.0 148.0,356.5 148.5,359.5 147.0,360.0Z"/>
<path fill="#5678bd" d="M66.7,18.8 68.3,18.5 68.6,20.8 67.2,21.4Z"/>
<path fill="#5678bd" d="M66.5,22.5 67.9,22.3 68.1,24.8 66.8,25.2Z"/>
<path fill="#5678bd" d="M155.5,360.5 157.5,360.3 158.0,363.5 156.3,363.6Z"/>
<path fill="#5678bd" d="M158.5,369.5 161.0,368.5 162.5,370.5 160.5,372.0Z"/>
<path fill="#cbd0ec" d="M194.0,373.8 197.0,373.4 198.8,374.5 196.5,375.6 193.8,375.2Z"/>
<path fill="#cbd0ec" d="M201.5,370.5 204.0,369.0 207.0,369.5 207.5,372.0 206.0,374.5 203.0,374.8 201.5,373.0Z"/>
<path fill="#cbd0ec" d="M225.2,376.5 227.5,375.5 229.5,376.8 231.5,379.0 234.2,381.5 233.0,383.0 229.5,382.0 226.5,380.0 225.0,378.2Z"/>
<path fill="#cbd0ec" d="M239.3,382.8 243.0,382.3 246.0,382.8 248.0,383.5 247.0,384.6 243.5,384.0 239.5,384.0Z"/>
<path fill="#cbd0ec" d="M244.5,387.3 245.8,387.2 245.8,388.3 244.6,388.4Z"/>
<path fill="#cbd0ec" d="M249.5,386.0 252.0,385.4 254.7,386.4 257.7,388.2 259.9,388.9 259.2,390.4 256.0,390.3 254.7,389.7 252.5,389.8 251.5,388.5Z"/>
<path fill="#cbd0ec" d="M250.2,392.3 252.0,391.6 252.8,392.8 251.0,393.6Z"/>
<path fill="#cbd0ec" d="M262.2,394.4 265.9,396.4 270.3,400.1 273.0,402.0 275.5,403.0 277.7,404.5 276.0,406.0 274.0,407.5 269.6,409.7 267.0,411.0 265.1,412.7 263.0,412.2 261.4,410.4 260.5,407.0 259.2,404.5 258.4,401.5 259.5,399.5 260.7,397.8 260.5,395.5Z"/>
<path fill="#5678bd" d="M587.8,235.7 599.8,247.3 590.5,256.6 589.1,248.6 586.5,243.7 582.5,241.0Z"/>
</g>
<g stroke="#1d2233" stroke-width="0.9"><polyline fill="none" points="536.5,178.5 538.5,180 537.8,181.2 540.5,181.8 541.6,181"/>
<polyline fill="none" points="538,184 540,184.6 539.4,186 542.5,186.5 543,185.8"/>
<polyline fill="none" points="539,188.8 541,189.6 540.6,190.8 543.5,191.4"/>
<polyline fill="none" points="540.5,193.6 542.4,194.3 541.8,195.5 544.8,196.3"/>
<polyline fill="none" points="536,172.5 538,173.2 537.2,174.4 539.8,175"/></g>
<g stroke="#222" stroke-width="0.8"><line x1="532.2" y1="60.4" x2="559.2" y2="82.6"/>
<line x1="557.7" y1="60.4" x2="570.6" y2="90.9"/>
<line x1="603.9" y1="93" x2="582.1" y2="108.5"/>
<line x1="609" y1="115.2" x2="592.4" y2="117.3"/>
<line x1="591.4" y1="134.5" x2="568.5" y2="124.1"/>
<line x1="552.4" y1="142.9" x2="595" y2="162.5"/>
<line x1="551" y1="167.5" x2="564.7" y2="175.5"/>
<line x1="533.1" y1="163.4" x2="568.3" y2="195.1"/>
<line x1="531.7" y1="171.6" x2="583.4" y2="237.5"/></g>
<g font-size="10.2" stroke-width="0.3">
<text x="90.3" y="40.0" fill="#f4f4fb" stroke="#f4f4fb" text-anchor="middle">WA</text>
<text x="90.3" y="51.6" fill="#f4f4fb" stroke="#f4f4fb" text-anchor="middle">28.9</text>
<text x="67.4" y="87.7" fill="#2b2b2b" stroke="#2b2b2b" text-anchor="middle">OR</text>
<text x="67.4" y="98.8" fill="#2b2b2b" stroke="#2b2b2b" text-anchor="middle">25.8</text>
<text x="131" y="100.3" fill="#f4f4fb" stroke="#f4f4fb" text-anchor="middle">ID</text>
<text x="131" y="111.6" fill="#f4f4fb" stroke="#f4f4fb" text-anchor="middle">31.4</text>
<text x="185.8" y="64.1" fill="#2b2b2b" stroke="#2b2b2b" text-anchor="middle">MT</text>
<text x="185.8" y="75.1" fill="#2b2b2b" stroke="#2b2b2b" text-anchor="middle">20.2</text>
<text x="272.8" y="66.1" fill="#2b2b2b" stroke="#2b2b2b" text-anchor="middle">ND</text>
<text x="272.8" y="77.5" fill="#2b2b2b" stroke="#2b2b2b" text-anchor="middle">20.2</text>
<text x="275" y="111.2" fill="#f4f4fb" stroke="#f4f4fb" text-anchor="middle">SD</text>
<text x="275" y="122.5" fill="#f4f4fb" stroke="#f4f4fb" text-anchor="middle">17.2</text>
<text x="196.2" y="123.5" fill="#f4f4fb" stroke="#f4f4fb" text-anchor="middle">WY</text>
<text x="196.2" y="135.1" fill="#f4f4fb" stroke="#f4f4fb" text-anchor="middle">27.5</text>
<text x="277.5" y="153.1" fill="#2b2b2b" stroke="#2b2b2b" text-anchor="middle">NE</text>
<text x="277.5" y="164.8" fill="#2b2b2b" stroke="#2b2b2b" text-anchor="middle">23.9</text>
<text x="215.1" y="185.8" fill="#f4f4fb" stroke="#f4f4fb" text-anchor="middle">CO</text>
<text x="215.1" y="197.4" fill="#f4f4fb" stroke="#f4f4fb" text-anchor="middle">32.5</text>
<text x="290.4" y="197.3" fill="#2b2b2b" stroke="#2b2b2b" text-anchor="middle">KS</text>
<text x="290.4" y="209.1" fill="#2b2b2b" stroke="#2b2b2b" text-anchor="middle">23.2</text>
<text x="95.5" y="154.5" fill="#2b2b2b" stroke="#2b2b2b" text-anchor="middle">NV</text>
<text x="95.5" y="166.4" fill="#2b2b2b" stroke="#2b2b2b" text-anchor="middle">23.6</text>
<text x="51.1" y="179.5" fill="#f4f4fb" stroke="#f4f4fb" text-anchor="middle">CA</text>
<text x="51.1" y="190.9" fill="#f4f4fb" stroke="#f4f4fb" text-anchor="middle">24.0</text>
<text x="147.7" y="175.3" fill="#f4f4fb" stroke="#f4f4fb" text-anchor="middle">UT</text>
<text x="147.7" y="186.7" fill="#f4f4fb" stroke="#f4f4fb" text-anchor="middle">28.2</text>
<text x="134.7" y="242.7" fill="#f4f4fb" stroke="#f4f4fb" text-anchor="middle">AZ</text>
<text x="134.7" y="253.6" fill="#f4f4fb" stroke="#f4f4fb" text-anchor="middle">26.3</text>
<text x="336.5" y="84.3" fill="#f4f4fb" stroke="#f4f4fb" text-anchor="middle">MN</text>
<text x="336.5" y="95.6" fill="#f4f4fb" stroke="#f4f4fb" text-anchor="middle">27.7</text>
<text x="386.9" y="106.5" fill="#2b2b2b" stroke="#2b2b2b" text-anchor="middle">WI</text>
<text x="386.9" y="118.0" fill="#2b2b2b" stroke="#2b2b2b" text-anchor="middle">23.6</text>
<text x="440.8" y="124.9" fill="#2b2b2b" stroke="#2b2b2b" text-anchor="middle">MI</text>
<text x="440.8" y="136.2" fill="#2b2b2b" stroke="#2b2b2b" text-anchor="middle">23.6</text>
<text x="345.5" y="145.4" fill="#2b2b2b" stroke="#2b2b2b" text-anchor="middle">IA</text>
<text x="345.5" y="156.8" fill="#2b2b2b" stroke="#2b2b2b" text-anchor="middle">22.2</text>
<text x="396.3" y="169.0" fill="#f4f4fb" stroke="#f4f4fb" text-anchor="middle">IL</text>
<text x="396.3" y="180.4" fill="#f4f4fb" stroke="#f4f4fb" text-anchor="middle">24.8</text>
<text x="428.5" y="167.8" fill="#f4f4fb" stroke="#f4f4fb" text-anchor="middle">IN</text>
<text x="428.5" y="179.1" fill="#f4f4fb" stroke="#f4f4fb" text-anchor="middle">15.1</text>
<text x="515.3" y="144.6" fill="#f4f4fb" stroke="#f4f4fb" text-anchor="middle">PA</text>
<text x="515.3" y="155.3" fill="#f4f4fb" stroke="#f4f4fb" text-anchor="middle">25.6</text>
<text x="462.8" y="163.2" fill="#2b2b2b" stroke="#2b2b2b" text-anchor="middle">OH</text>
<text x="462.8" y="173.9" fill="#2b2b2b" stroke="#2b2b2b" text-anchor="middle">23.9</text>
<text x="489" y="183.4" fill="#f4f4fb" stroke="#f4f4fb" text-anchor="middle">WV</text>
<text x="489" y="194.0" fill="#f4f4fb" stroke="#f4f4fb" text-anchor="middle">16.8</text>
<text x="518.6" y="188.5" fill="#2b2b2b" stroke="#2b2b2b" text-anchor="middle">VA</text>
<text x="518.6" y="198.8" fill="#2b2b2b" stroke="#2b2b2b" text-anchor="middle">24.2</text>
<text x="450.2" y="203.3" fill="#f4f4fb" stroke="#f4f4fb" text-anchor="middle">KY</text>
<text x="450.2" y="213.5" fill="#f4f4fb" stroke="#f4f4fb" text-anchor="middle">14.6</text>
<text x="358.9" y="200.1" fill="#2b2b2b" stroke="#2b2b2b" text-anchor="middle">MO</text>
<text x="358.9" y="211.3" fill="#2b2b2b" stroke="#2b2b2b" text-anchor="middle">23.6</text>
<text x="306.7" y="239.2" fill="#f4f4fb" stroke="#f4f4fb" text-anchor="middle">OK</text>
<text x="306.7" y="250.5" fill="#f4f4fb" stroke="#f4f4fb" text-anchor="middle">19.0</text>
<text x="362.9" y="245.4" fill="#f4f4fb" stroke="#f4f4fb" text-anchor="middle">AR</text>
<text x="362.9" y="256.6" fill="#f4f4fb" stroke="#f4f4fb" text-anchor="middle">15.7</text>
<text x="396.4" y="276.9" fill="#f4f4fb" stroke="#f4f4fb" text-anchor="middle">MS</text>
<text x="396.4" y="288.0" fill="#f4f4fb" stroke="#f4f4fb" text-anchor="middle">13.5</text>
<text x="367" y="305.4" fill="#2b2b2b" stroke="#2b2b2b" text-anchor="middle">LA</text>
<text x="367" y="316.5" fill="#2b2b2b" stroke="#2b2b2b" text-anchor="middle">20.3</text>
<text x="432.5" y="278.3" fill="#f4f4fb" stroke="#f4f4fb" text-anchor="middle">AL</text>
<text x="432.5" y="289.5" fill="#f4f4fb" stroke="#f4f4fb" text-anchor="middle">19.3</text>
<text x="472.6" y="272.1" fill="#f4f4fb" stroke="#f4f4fb" text-anchor="middle">GA</text>
<text x="472.6" y="283.3" fill="#f4f4fb" stroke="#f4f4fb" text-anchor="middle">20.2</text>
<text x="503" y="247.6" fill="#f4f4fb" stroke="#f4f4fb" text-anchor="middle">SC</text>
<text x="503" y="260.0" fill="#f4f4fb" stroke="#f4f4fb" text-anchor="middle">14.8</text>
<text x="508" y="332.7" fill="#f4f4fb" stroke="#f4f4fb" text-anchor="middle">FL</text>
<text x="508" y="343.7" fill="#f4f4fb" stroke="#f4f4fb" text-anchor="middle">21.1</text>
<text x="202" y="247.6" fill="#2b2b2b" stroke="#2b2b2b" text-anchor="middle">NM</text>
<text x="202" y="258.9" fill="#2b2b2b" stroke="#2b2b2b" text-anchor="middle">23.0</text>
<text x="281.6" y="295.0" fill="#2b2b2b" stroke="#2b2b2b" text-anchor="middle">TX</text>
<text x="281.6" y="306.4" fill="#2b2b2b" stroke="#2b2b2b" text-anchor="middle">23.5</text>
<text x="540" y="104.2" fill="#f4f4fb" stroke="#f4f4fb" text-anchor="middle">NY</text>
<text x="540" y="115.8" fill="#f4f4fb" stroke="#f4f4fb" text-anchor="middle">18.9</text>
<text x="519" y="57.1" fill="#2b2b2b" stroke="#2b2b2b" text-anchor="middle">VT</text>
<text x="519" y="68.7" fill="#2b2b2b" stroke="#2b2b2b" text-anchor="middle">29.5</text>
<text x="554.1" y="40.4" fill="#2b2b2b" stroke="#2b2b2b" text-anchor="middle">NH</text>
<text x="554.1" y="51.6" fill="#2b2b2b" stroke="#2b2b2b" text-anchor="middle">30.7</text>
<text x="591" y="57.1" fill="#2b2b2b" stroke="#2b2b2b" text-anchor="middle">ME</text>
<text x="591" y="68.7" fill="#2b2b2b" stroke="#2b2b2b" text-anchor="middle">24.0</text>
<text x="96" y="322.0" fill="#f4f4fb" stroke="#f4f4fb" text-anchor="middle">AK</text>
<text x="96" y="333.4" fill="#f4f4fb" stroke="#f4f4fb" text-anchor="middle">27.9</text>
<text x="229.5" y="406.1" fill="#2b2b2b" stroke="#2b2b2b" text-anchor="middle">HI</text>
<text x="229.5" y="417.6" fill="#2b2b2b" stroke="#2b2b2b" text-anchor="middle">24.4</text>
<text x="610.5" y="247.1" fill="#2b2b2b" stroke="#2b2b2b" text-anchor="middle">DC</text>
<text x="610.5" y="258.6" fill="#2b2b2b" stroke="#2b2b2b" text-anchor="middle">30.7</text>
<text x="428.6" y="235.7" fill="#f4f4fb" stroke="#f4f4fb" text-anchor="middle">TN 17.1</text>
<text x="510.5" y="228.6" fill="#2b2b2b" stroke="#2b2b2b" text-anchor="middle">NC 22.4</text>
<text x="610.4" y="96.4" fill="#2b2b2b" stroke="#2b2b2b" text-anchor="start">MA 29.5</text>
<text x="615.6" y="117.4" fill="#2b2b2b" stroke="#2b2b2b" text-anchor="start">RI 25.4</text>
<text x="598.3" y="139.3" fill="#2b2b2b" stroke="#2b2b2b" text-anchor="start">CT 24.5</text>
<text x="601.8" y="166.5" fill="#2b2b2b" stroke="#2b2b2b" text-anchor="start">NJ 21.0</text>
<text x="569.7" y="179.6" fill="#2b2b2b" stroke="#2b2b2b" text-anchor="start">DE 20.1</text>
<text x="574" y="199.5" fill="#2b2b2b" stroke="#2b2b2b" text-anchor="start">MD 22.9</text>
</g>
<g stroke="#3a2a33" stroke-width="0.9">
<rect x="444.5" y="383.3" width="16.5" height="7.8" fill="#9e4b59"/>
<rect x="444.5" y="401.9" width="16.5" height="7.8" fill="#d1aaab"/>
<rect x="444.5" y="431.2" width="16.5" height="7.8" fill="#cbd0ec"/>
<rect x="444.5" y="460.8" width="16.5" height="7.8" fill="#5678bd"/></g>
<g fill="#2b2b2b" stroke="#2b2b2b" stroke-width="0.25" font-size="10.3">
<text x="469.7" y="391.1">Significantly lower than U.S. average</text>
<text x="469.7" y="409.1">Less than but not significantly different</text>
<text x="469.7" y="420.6">from U.S. average</text>
<text x="469.7" y="438.5">Greater than but not significantly different</text>
<text x="469.7" y="450">from U.S. average</text>
<text x="469.7" y="468">Significantly higher than U.S. average</text></g>
<rect x="239.3" y="435.7" width="120.9" height="17.8" fill="#fff" stroke="#444" stroke-width="0.9"/>
<text x="245.1" y="447.9" fill="#2b2b2b" stroke="#2b2b2b" stroke-width="0.2" font-size="10.4" textLength="109" lengthAdjust="spacingAndGlyphs">National average is 22.9%</text>
<text x="9.6" y="475.4" fill="#333" stroke="#333" stroke-width="0.2" font-size="7.9" textLength="226.4" lengthAdjust="spacingAndGlyphs">SOURCE: NCHS, National Health Interview Survey, 2010–2015.</text>

</svg></div></body></html>
